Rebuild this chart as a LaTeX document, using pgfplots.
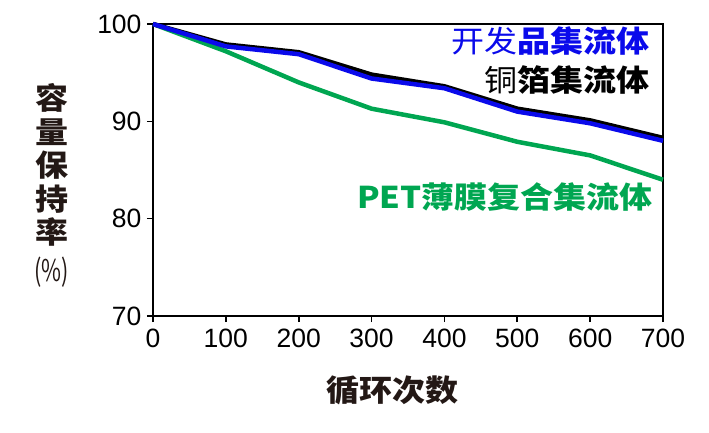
\documentclass[border=0pt]{standalone}
\usepackage{fontspec}
\usepackage{graphicx}
\usepackage{pgfplots}
\pgfplotsset{compat=1.18}
\setmainfont{Liberation Sans}
\newfontfamily\cjk{Noto Sans CJK SC}
\definecolor{myblue}{RGB}{10,10,235}
\definecolor{mygreen}{RGB}{0,166,81}
\definecolor{labelblack}{RGB}{35,24,21}
\newcommand{\wide}[1]{\scalebox{1.1}[1]{#1}}

\begin{document}
\begin{tikzpicture}
\begin{axis}[
  scale only axis,
  width=510pt, height=292pt,
  xmin=0, xmax=700, ymin=70, ymax=100,
  xtick={0,100,...,700}, ytick={70,80,90,100},
  xtick pos=bottom, ytick pos=left,
  tick align=outside,
  major tick length=6pt,
  axis line style={line width=2.6pt},
  every tick/.style={line width=1.6pt, black},
  tick label style={font=\fontsize{26.5}{26.5}\selectfont, black},
  /pgf/number format/assume math mode=true,
  xticklabel style={yshift=-3pt},
  yticklabel style={xshift=-2pt},
  clip=false,
]
\addplot[mygreen, line width=4.5pt, line join=round] coordinates {
  (0,100) (100,97.2) (200,94.0) (300,91.3) (400,89.9) (500,87.9) (600,86.5) (700,84.0)
};
\addplot[black, line width=4.5pt, line join=round] coordinates {
  (0,100) (100,97.9) (200,97.1) (300,94.8) (400,93.6) (500,91.3) (600,90.1) (700,88.3)
};
\addplot[myblue, line width=4.5pt, line join=round] coordinates {
  (0,100) (100,97.7) (200,96.9) (300,94.4) (400,93.4) (500,91.0) (600,89.8) (700,88.0)
};
\coordinate (sw) at (rel axis cs:0,0);
\node[anchor=east, inner sep=0pt, text=myblue] at (axis cs:682,98.3)
  {\cjk\fontsize{30}{30}\selectfont\wide{开发\bfseries 品集流体}};
\node[anchor=east, inner sep=0pt, text=black] at (axis cs:682,94.3)
  {\cjk\fontsize{30}{30}\selectfont\wide{铜\bfseries 箔集流体}};
\node[anchor=east, inner sep=0pt, text=mygreen] at (axis cs:686,82.2)
  {\cjk\bfseries\fontsize{30}{30}\selectfont\wide{PET薄膜复合集流体}};
\node[inner sep=0pt, text=labelblack] at (axis cs:329,62.4)
  {\cjk\bfseries\fontsize{30}{30}\selectfont\wide{循环次数}};
\node[inner sep=0pt, text=labelblack, align=center,
      font=\cjk\bfseries\fontsize{30}{33.5}\selectfont] at (axis cs:-139,83.4)
  {\wide{容}\\\wide{量}\\\wide{保}\\\wide{持}\\\wide{率}\\[4pt]
   \scalebox{0.72}[1]{\mdseries(\%)}};
\end{axis}
\pgfresetboundingbox
\path[use as bounding box] ([xshift=-153pt,yshift=-116pt]sw) rectangle ([xshift=556pt,yshift=316pt]sw);
\end{tikzpicture}
\end{document}
